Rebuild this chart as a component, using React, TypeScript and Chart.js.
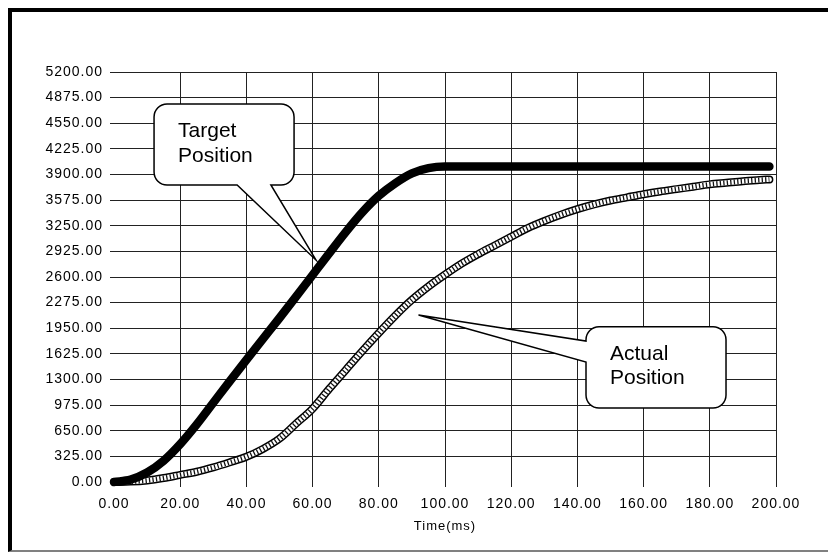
import React, { useEffect, useRef } from "react";
import { Chart, registerables } from "chart.js";

Chart.register(...registerables);

// ---- data ----
const timeMs = [
  0, 5, 10, 15, 20, 25, 30, 35, 40, 45, 50, 55, 60, 65, 70, 75, 80, 85, 90, 95, 100,
  105, 110, 115, 120, 125, 130, 135, 140, 145, 150, 155, 160, 165, 170, 175, 180, 185, 190, 195, 198,
];
const targetPosition = [
  0, 30, 120, 270, 480, 730, 1005, 1280, 1550, 1815, 2080, 2350, 2625, 2900, 3170, 3420, 3630, 3790, 3915, 3980, 4000,
  4000, 4000, 4000, 4000, 4000, 4000, 4000, 4000, 4000, 4000, 4000, 4000, 4000, 4000, 4000, 4000, 4000, 4000, 4000, 4000,
];
const actualPosition = [
  0, 5, 20, 50, 90, 130, 185, 250, 320, 420, 550, 740, 930, 1180, 1420, 1660, 1890, 2110, 2310, 2480, 2630,
  2770, 2890, 3000, 3110, 3220, 3310, 3390, 3460, 3520, 3570, 3610, 3650, 3685, 3715, 3745, 3775, 3795, 3815, 3830, 3838,
];
const xTickValues = [0, 20, 40, 60, 80, 100, 120, 140, 160, 180, 200];
const yTickValues = [
  0, 325, 650, 975, 1300, 1625, 1950, 2275, 2600, 2925, 3250, 3575, 3900, 4225, 4550, 4875, 5200,
];
const xAxisTitle = "Time(ms)";

const targetLabel = ["Target", "Position"];
const actualLabel = ["Actual", "Position"];

type Callout = {
  lines: string[];
  box: [number, number, number, number]; // tMin, vMin, tMax, vMax
  side: "bottom" | "left";
  base: [number, number];
  tip: [number, number];
};

const callouts: Callout[] = [
  { lines: targetLabel, box: [12.1, 3767, 54.4, 4794], side: "bottom", base: [37.2, 47.4], tip: [61, 2816] },
  { lines: actualLabel, box: [142.6, 939, 184.9, 1970], side: "left", base: [1522, 1788], tip: [92, 2118] },
];

const FONT = '"Liberation Sans", Arial, sans-serif';

const spacingPlugin = {
  id: "tickSpacing",
  beforeDraw(chart: any) {
    chart.ctx.letterSpacing = "1px";
  },
};

const calloutPlugin = {
  id: "callouts",
  afterDatasetsDraw(chart: any) {
    const { ctx, scales } = chart;
    const x = scales.x;
    const y = scales.y;
    for (const c of callouts) {
      const L = x.getPixelForValue(c.box[0]);
      const R = x.getPixelForValue(c.box[2]);
      const T = y.getPixelForValue(c.box[3]);
      const B = y.getPixelForValue(c.box[1]);
      const tx = x.getPixelForValue(c.tip[0]);
      const ty = y.getPixelForValue(c.tip[1]);
      const r = 13;
      ctx.save();
      ctx.letterSpacing = "0px";
      ctx.beginPath();
      ctx.moveTo(L + r, T);
      ctx.lineTo(R - r, T);
      ctx.arcTo(R, T, R, T + r, r);
      ctx.lineTo(R, B - r);
      ctx.arcTo(R, B, R - r, B, r);
      if (c.side === "bottom") {
        const b0 = x.getPixelForValue(c.base[0]);
        const b1 = x.getPixelForValue(c.base[1]);
        ctx.lineTo(b1, B);
        ctx.lineTo(tx, ty);
        ctx.lineTo(b0, B);
      }
      ctx.lineTo(L + r, B);
      ctx.arcTo(L, B, L, B - r, r);
      if (c.side === "left") {
        const b0 = y.getPixelForValue(c.base[0]);
        const b1 = y.getPixelForValue(c.base[1]);
        ctx.lineTo(L, b0);
        ctx.lineTo(tx, ty);
        ctx.lineTo(L, b1);
      }
      ctx.lineTo(L, T + r);
      ctx.arcTo(L, T, L + r, T, r);
      ctx.closePath();
      ctx.fillStyle = "#fff";
      ctx.fill();
      ctx.lineWidth = 1.5;
      ctx.strokeStyle = "#000";
      ctx.lineJoin = "miter";
      ctx.stroke();
      ctx.fillStyle = "#000";
      ctx.font = `21px ${FONT}`;
      ctx.textAlign = "left";
      ctx.textBaseline = "alphabetic";
      c.lines.forEach((line, i) => ctx.fillText(line, L + 24, T + 33 + i * 24.5));
      ctx.restore();
    }
  },
};

export default function App() {
  const ref = useRef<HTMLCanvasElement | null>(null);

  useEffect(() => {
    if (!ref.current) return;
    const pts = (vals: number[]) => timeMs.map((t, i) => ({ x: t, y: vals[i] }));
    const gridColor = (ctx: any) => (ctx.tick && ctx.tick.value === 0 ? "rgba(0,0,0,0)" : "#222");

    const chart = new Chart(ref.current, {
      type: "line",
      data: {
        datasets: [
          {
            label: "Target Position",
            data: pts(targetPosition),
            borderColor: "#000",
            borderWidth: 8.5,
            borderCapStyle: "round",
            borderJoinStyle: "round",
            pointRadius: 0,
            cubicInterpolationMode: "monotone",
            clip: false,
            order: 0,
          } as any,
          {
            label: "Actual rings",
            data: pts(actualPosition),
            borderColor: "#111",
            borderWidth: 5,
            borderDash: [1.3, 2.2],
            pointRadius: 0,
            cubicInterpolationMode: "monotone",
            clip: false,
            order: 1,
          } as any,
          {
            label: "Actual inner",
            data: pts(actualPosition),
            borderColor: "#fff",
            borderWidth: 5,
            borderCapStyle: "round",
            pointRadius: 0,
            cubicInterpolationMode: "monotone",
            clip: false,
            order: 2,
          } as any,
          {
            label: "Actual Position",
            data: pts(actualPosition),
            borderColor: "#000",
            borderWidth: 8,
            borderCapStyle: "round",
            pointRadius: 0,
            cubicInterpolationMode: "monotone",
            clip: false,
            order: 3,
          } as any,
        ],
      },
      options: {
        animation: false,
        responsive: false,
        events: [],
        layout: { padding: { left: 0, top: 60, right: 56, bottom: 12 } },
        plugins: { legend: { display: false }, tooltip: { enabled: false }, title: { display: false } },
        scales: {
          x: {
            type: "linear",
            min: 0,
            max: 200,
            afterBuildTicks: (s: any) => {
              s.ticks = xTickValues.map((v) => ({ value: v }));
            },
            afterFit: (s: any) => {
              s.height = 56;
            },
            border: { display: false },
            grid: { color: gridColor, lineWidth: 1, tickLength: 5, drawTicks: true },
            ticks: {
              autoSkip: false,
              maxRotation: 0,
              minRotation: 0,
              padding: 9,
              color: "#000",
              font: { family: FONT, size: 14 },
              callback: (v: any) => Number(v).toFixed(2),
            },
            title: {
              display: true,
              text: xAxisTitle,
              color: "#000",
              font: { family: FONT, size: 13 },
              padding: { top: 0, bottom: 4 },
            },
          },
          y: {
            type: "linear",
            min: 0,
            max: 5200,
            afterBuildTicks: (s: any) => {
              s.ticks = yTickValues.map((v) => ({ value: v }));
            },
            afterFit: (s: any) => {
              s.width = 102;
            },
            border: { display: false },
            grid: { color: gridColor, lineWidth: 1, tickLength: 4, drawTicks: true },
            ticks: {
              autoSkip: false,
              padding: 7,
              color: "#000",
              font: { family: FONT, size: 14 },
              callback: (v: any) => Number(v).toFixed(2),
            },
          },
        },
      } as any,
      plugins: [spacingPlugin, calloutPlugin],
    });
    return () => chart.destroy();
  }, []);

  return (
    <div
      style={{
        width: 826,
        height: 544,
        boxSizing: "border-box",
        borderTop: "4px solid #000",
        borderLeft: "4px solid #000",
        borderRight: "2px solid #808080",
        borderBottom: "2px solid #808080",
        background: "#fff",
      }}
    >
      <canvas ref={ref} width={820} height={538} style={{ display: "block" }} />
    </div>
  );
}
